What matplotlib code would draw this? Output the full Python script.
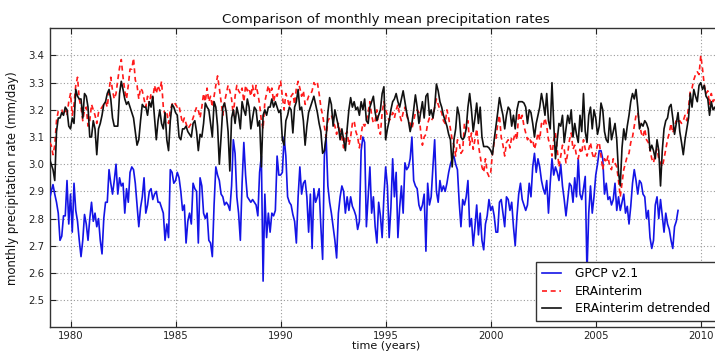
import numpy as np
import matplotlib
matplotlib.use("Agg")
import matplotlib.pyplot as plt

start_year = 1979

gpcp = [
    2.87, 2.90, 2.925, 2.89, 2.86, 2.82, 2.72, 2.735, 2.81, 2.81, 2.94, 2.78,   # 1979
    2.89, 2.75, 2.93, 2.83, 2.79, 2.72, 2.66, 2.72, 2.815, 2.78, 2.72, 2.80,   # 1980
    2.86, 2.79, 2.82, 2.77, 2.80, 2.72, 2.67, 2.80, 2.86, 2.86, 2.98, 2.93,    # 1981
    2.89, 2.94, 3.00, 2.89, 2.95, 2.92, 2.93, 2.82, 2.91, 2.86, 2.97, 2.99,    # 1982
    2.98, 2.93, 2.85, 2.77, 2.84, 2.88, 2.95, 2.82, 2.85, 2.90, 2.91, 2.87,    # 1983
    2.89, 2.90, 2.86, 2.86, 2.84, 2.82, 2.72, 2.78, 2.73, 2.98, 2.97, 2.93,    # 1984
    2.94, 2.97, 2.95, 2.90, 2.83, 2.85, 2.71, 2.79, 2.82, 2.78, 2.93, 2.91,    # 1985
    2.90, 2.71, 2.95, 2.92, 2.82, 2.80, 2.82, 2.72, 2.71, 2.66, 2.85, 2.99,    # 1986
    2.96, 2.94, 2.89, 2.88, 2.85, 2.86, 2.85, 2.83, 2.92, 3.09, 3.04, 2.88,    # 1987
    2.82, 2.72, 2.93, 3.08, 2.96, 2.88, 2.87, 2.86, 2.87, 2.86, 2.85, 2.81,    # 1988
    2.97, 3.03, 2.57, 2.89, 2.73, 2.82, 2.75, 2.82, 2.81, 2.83, 3.03, 2.96,    # 1989
    2.96, 2.97, 3.10, 3.03, 2.88, 2.86, 2.85, 2.815, 2.79, 2.71, 2.88, 2.99,   # 1990
    2.89, 2.93, 2.94, 2.88, 2.75, 2.89, 2.69, 2.91, 2.86, 2.88, 2.91, 2.77,    # 1991
    2.65, 3.03, 3.10, 2.92, 2.86, 2.82, 2.77, 2.72, 2.655, 2.82, 2.88, 2.92,   # 1992
    2.90, 2.82, 2.88, 2.83, 2.88, 2.845, 2.83, 2.81, 2.76, 2.79, 3.05, 3.10,   # 1993
    3.08, 2.77, 2.88, 2.99, 2.82, 2.88, 2.77, 2.71, 2.86, 2.81, 2.73, 2.88,    # 1994
    2.99, 2.92, 2.73, 2.84, 3.02, 2.88, 2.97, 2.73, 2.84, 2.92, 2.82, 3.005,   # 1995
    2.98, 2.99, 3.02, 3.10, 2.94, 2.92, 2.91, 2.85, 2.83, 2.85, 2.89, 2.68,    # 1996
    2.93, 2.85, 2.88, 2.99, 3.09, 2.90, 2.86, 2.94, 2.90, 2.92, 2.90, 2.93,    # 1997
    2.97, 3.00, 3.02, 3.03, 3.00, 2.98, 2.86, 2.77, 2.87, 2.85, 2.88, 2.94,    # 1998
    2.77, 2.80, 2.70, 2.77, 2.85, 2.74, 2.82, 2.72, 2.685, 2.78, 2.81, 2.87,   # 1999
    2.83, 2.845, 2.81, 2.75, 2.75, 2.86, 2.87, 2.82, 2.77, 2.88, 2.87, 2.83,   # 2000
    2.86, 2.77, 2.70, 2.81, 2.89, 2.93, 2.87, 2.85, 2.83, 2.85, 2.93, 2.88,    # 2001
    2.99, 3.04, 2.97, 3.02, 2.99, 2.94, 2.91, 2.89, 2.94, 2.82, 2.93, 3.02,    # 2002
    2.96, 2.99, 2.97, 2.94, 3.00, 2.92, 2.87, 2.81, 2.87, 2.93, 2.92, 2.86,    # 2003
    2.95, 2.88, 3.02, 2.89, 2.87, 2.91, 2.955, 2.60, 2.82, 2.92, 2.82, 2.88,   # 2004
    2.96, 3.00, 3.05, 3.05, 3.02, 2.89, 2.93, 2.87, 2.88, 2.85, 2.87, 2.93,    # 2005
    2.83, 2.88, 2.83, 2.86, 2.89, 2.82, 2.845, 2.78, 2.845, 2.93, 2.98, 2.94,  # 2006
    2.89, 2.94, 2.93, 2.89, 2.88, 2.80, 2.83, 2.73, 2.69, 2.72, 2.85, 2.88,    # 2007
    2.80, 2.87, 2.81, 2.75, 2.82, 2.78, 2.76, 2.72, 2.69, 2.77, 2.79, 2.83,    # 2008
]

era = [
    3.08, 3.07, 3.035, 3.07, 3.16, 3.195, 3.20, 3.20, 3.18, 3.20, 3.18, 3.23,  # 1979
    3.26, 3.18, 3.22, 3.29, 3.32, 3.24, 3.21, 3.16, 3.20, 3.21, 3.14, 3.16,    # 1980
    3.22, 3.20, 3.18, 3.15, 3.19, 3.20, 3.21, 3.22, 3.23, 3.21, 3.27, 3.32,    # 1981
    3.27, 3.24, 3.26, 3.31, 3.355, 3.385, 3.32, 3.27, 3.24, 3.29, 3.35, 3.35,  # 1982
    3.39, 3.31, 3.29, 3.24, 3.28, 3.27, 3.24, 3.21, 3.25, 3.22, 3.26, 3.24,    # 1983
    3.29, 3.26, 3.29, 3.27, 3.305, 3.21, 3.18, 3.19, 3.15, 3.20, 3.22, 3.23,   # 1984
    3.22, 3.21, 3.215, 3.18, 3.15, 3.17, 3.15, 3.13, 3.14, 3.15, 3.17, 3.19,   # 1985
    3.21, 3.20, 3.17, 3.21, 3.26, 3.23, 3.28, 3.23, 3.25, 3.21, 3.25, 3.29,    # 1986
    3.325, 3.28, 3.23, 3.18, 3.23, 3.26, 3.29, 3.27, 3.24, 3.18, 3.25, 3.29,   # 1987
    3.27, 3.26, 3.28, 3.23, 3.29, 3.27, 3.28, 3.25, 3.29, 3.25, 3.29, 3.26,    # 1988
    3.22, 3.16, 3.13, 3.23, 3.26, 3.29, 3.26, 3.28, 3.23, 3.26, 3.25, 3.28,    # 1989
    3.305, 3.25, 3.20, 3.26, 3.24, 3.21, 3.25, 3.26, 3.22, 3.28, 3.305, 3.28,  # 1990
    3.25, 3.27, 3.22, 3.23, 3.25, 3.255, 3.27, 3.30, 3.29, 3.30, 3.26, 3.21,   # 1991
    3.18, 3.14, 3.10, 3.16, 3.17, 3.18, 3.16, 3.14, 3.11, 3.15, 3.12, 3.10,    # 1992
    3.06, 3.11, 3.12, 3.07, 3.10, 3.15, 3.16, 3.12, 3.10, 3.06, 3.11, 3.15,    # 1993
    3.14, 3.16, 3.19, 3.23, 3.18, 3.15, 3.16, 3.20, 3.13, 3.11, 3.19, 3.23,    # 1994
    3.20, 3.18, 3.16, 3.17, 3.19, 3.17, 3.20, 3.22, 3.18, 3.16, 3.19, 3.21,    # 1995
    3.18, 3.16, 3.15, 3.13, 3.16, 3.19, 3.20, 3.19, 3.12, 3.07, 3.10, 3.11,    # 1996
    3.15, 3.17, 3.16, 3.17, 3.21, 3.24, 3.22, 3.20, 3.19, 3.16, 3.15, 3.20,    # 1997
    3.17, 3.13, 3.09, 3.07, 3.03, 3.09, 3.08, 3.04, 3.05, 3.15, 3.13, 3.16,    # 1998
    3.07, 3.115, 3.055, 3.09, 3.13, 3.07, 3.03, 2.99, 2.97, 3.02, 2.97, 2.955, # 1999
    2.97, 3.04, 3.08, 3.09, 3.15, 3.18, 3.10, 3.07, 3.03, 3.08, 3.09, 3.06,    # 2000
    3.10, 3.09, 3.115, 3.09, 3.19, 3.16, 3.18, 3.14, 3.115, 3.09, 3.10, 3.08,  # 2001
    3.09, 3.055, 3.08, 3.115, 3.09, 3.15, 3.14, 3.17, 3.14, 3.09, 3.07, 3.03,  # 2002
    3.09, 3.115, 3.055, 2.99, 3.03, 3.07, 3.055, 3.005, 3.04, 3.09, 3.115, 3.055,  # 2003
    3.07, 3.03, 3.02, 3.055, 3.04, 3.09, 3.055, 3.03, 3.055, 3.08, 3.04, 3.02, # 2004
    3.04, 3.07, 3.08, 3.03, 2.98, 3.02, 3.005, 3.03, 2.99, 2.98, 3.02, 3.005,  # 2005
    2.99, 2.94, 2.88, 2.93, 2.98, 3.005, 3.03, 3.04, 3.08, 3.10, 3.14, 3.18,   # 2006
    3.19, 3.15, 3.115, 3.10, 3.13, 3.09, 3.08, 3.055, 3.02, 3.005, 3.04, 3.055,  # 2007
    3.02, 3.005, 2.99, 3.02, 3.055, 3.09, 3.115, 3.15, 3.115, 3.14, 3.16, 3.15,  # 2008
    3.16, 3.15, 3.16, 3.18, 3.16, 3.21, 3.27, 3.28, 3.31, 3.33, 3.34, 3.33,    # 2009
    3.40, 3.35, 3.29, 3.26, 3.27, 3.22, 3.26, 3.23, 3.24, 3.26, 3.22, 3.24,    # 2010
]

era_detrended = [
    3.02, 3.00, 2.98, 2.94, 3.12, 3.17, 3.17, 3.19, 3.18, 3.21, 3.20, 3.14,    # 1979
    3.13, 3.17, 3.15, 3.275, 3.25, 3.24, 3.24, 3.17, 3.26, 3.25, 3.21, 3.10,   # 1980
    3.10, 3.16, 3.13, 3.035, 3.13, 3.15, 3.18, 3.22, 3.23, 3.26, 3.275, 3.24,  # 1981
    3.17, 3.14, 3.14, 3.14, 3.26, 3.305, 3.275, 3.24, 3.22, 3.23, 3.21, 3.19,  # 1982
    3.17, 3.12, 3.07, 3.09, 3.16, 3.22, 3.21, 3.21, 3.18, 3.23, 3.21, 3.25,    # 1983
    3.17, 3.09, 3.16, 3.20, 3.15, 3.13, 3.19, 3.09, 3.05, 3.16, 3.22, 3.21,    # 1984
    3.19, 3.18, 3.10, 3.09, 3.13, 3.13, 3.14, 3.12, 3.11, 3.10, 3.15, 3.16,    # 1985
    3.12, 3.05, 3.11, 3.10, 3.15, 3.225, 3.21, 3.20, 3.15, 3.10, 3.23, 3.21,   # 1986
    3.14, 3.00, 3.10, 3.21, 3.225, 3.19, 3.12, 2.975, 3.17, 3.20, 3.15, 3.21,  # 1987
    3.18, 3.13, 3.23, 3.20, 3.18, 3.24, 3.21, 3.13, 3.17, 3.21, 3.20, 3.14,    # 1988
    3.16, 2.99, 3.18, 3.20, 3.18, 3.21, 3.21, 3.24, 3.21, 3.23, 3.21, 3.19,    # 1989
    3.20, 3.09, 3.07, 3.16, 3.18, 3.21, 3.20, 3.115, 3.21, 3.23, 3.275, 3.20,  # 1990
    3.21, 3.16, 3.07, 3.14, 3.19, 3.21, 3.23, 3.25, 3.22, 3.19, 3.15, 3.12,    # 1991
    3.04, 3.05, 3.10, 3.19, 3.245, 3.22, 3.14, 3.20, 3.17, 3.14, 3.09, 3.13,   # 1992
    3.09, 3.05, 3.13, 3.20, 3.245, 3.21, 3.23, 3.20, 3.21, 3.18, 3.23, 3.20,   # 1993
    3.24, 3.16, 3.15, 3.21, 3.23, 3.25, 3.19, 3.16, 3.18, 3.20, 3.26, 3.285,   # 1994
    3.09, 3.13, 3.16, 3.20, 3.23, 3.24, 3.26, 3.23, 3.21, 3.24, 3.27, 3.23,    # 1995
    3.19, 3.16, 3.12, 3.15, 3.20, 3.255, 3.21, 3.15, 3.19, 3.23, 3.17, 3.25,   # 1996
    3.26, 3.18, 3.20, 3.17, 3.21, 3.295, 3.27, 3.23, 3.21, 3.18, 3.16, 3.14,   # 1997
    3.11, 3.09, 2.99, 3.09, 3.13, 3.21, 3.18, 3.10, 3.09, 3.10, 3.13, 3.21,    # 1998
    3.26, 3.20, 3.12, 3.17, 3.225, 3.15, 3.21, 3.10, 3.065, 3.065, 3.065, 3.06,  # 1999
    3.05, 3.035, 3.09, 3.14, 3.19, 3.245, 3.21, 3.18, 3.13, 3.18, 3.21, 3.20,  # 2000
    3.14, 3.18, 3.13, 3.20, 3.23, 3.23, 3.23, 3.225, 3.21, 3.15, 3.20, 3.19,   # 2001
    3.15, 3.10, 3.15, 3.18, 3.21, 3.26, 3.225, 3.18, 3.26, 3.16, 3.13, 3.30,   # 2002
    3.15, 3.02, 3.09, 3.15, 3.14, 3.18, 3.08, 3.13, 3.18, 3.15, 3.20, 3.10,    # 2003
    3.15, 3.11, 3.08, 3.18, 3.12, 3.26, 3.12, 3.08, 3.18, 3.21, 3.13, 3.20,    # 2004
    3.17, 3.11, 3.14, 3.225, 3.20, 3.12, 3.09, 3.08, 3.17, 3.09, 3.12, 3.15,   # 2005
    3.09, 2.97, 2.92, 3.06, 3.13, 3.09, 3.14, 3.18, 3.23, 3.26, 3.24, 3.275,   # 2006
    3.21, 3.13, 3.15, 3.14, 3.16, 3.15, 3.13, 3.05, 3.07, 3.05, 3.02, 3.09,    # 2007
    3.05, 2.92, 3.05, 3.13, 3.16, 3.17, 3.21, 3.22, 3.17, 3.11, 3.15, 3.19,    # 2008
    3.12, 3.08, 3.035, 3.09, 3.13, 3.17, 3.26, 3.21, 3.275, 3.25, 3.23, 3.29,  # 2009
    3.30, 3.275, 3.29, 3.25, 3.24, 3.18, 3.23, 3.20, 3.21, 3.19, 3.20, 3.21,   # 2010
]

x_ticks = [1980, 1985, 1990, 1995, 2000, 2005, 2010]
y_ticks = [2.5, 2.6, 2.7, 2.8, 2.9, 3.0, 3.1, 3.2, 3.3, 3.4]

t_gpcp = start_year + np.arange(len(gpcp)) / 12.0
t_era = start_year + np.arange(len(era)) / 12.0
t_det = start_year + np.arange(len(era_detrended)) / 12.0

W, H = 715, 352
fig = plt.figure(figsize=(W / 100, H / 100), dpi=100)
ax_left = 49.5 / W
ax_bottom = 1 - 327.3 / H
ax_width = 672.3 / W
ax_height = (327.3 - 28.3) / H
ax = fig.add_axes([ax_left, ax_bottom, ax_width, ax_height])

ax.plot(t_gpcp, gpcp, color="#1414e6", lw=1.2, label="GPCP v2.1", zorder=3)
ax.plot(t_era, era, color="#ff1a1a", lw=1.2, dashes=(3.0, 2.2), label="ERAinterim", zorder=3)
ax.plot(t_det, era_detrended, color="#111111", lw=1.2, label="ERAinterim detrended", zorder=4)

ax.set_xlim(1979, 2011)
ax.set_ylim(2.4, 3.5)
ax.set_xticks(x_ticks)
ax.set_yticks(y_ticks)
ax.set_yticklabels([f"{v:.1f}" for v in y_ticks])
ax.tick_params(direction="in", length=4, width=0.8, labelsize=7.3, colors="#222222",
               top=True, right=True, pad=4)
ax.tick_params(axis="x", pad=3)
ax.grid(True, color="#9a9a9a", linestyle=(0, (1, 2)), linewidth=0.8)
for sp in ax.spines.values():
    sp.set_color("#333333")
    sp.set_linewidth(1.0)

ax.set_title("Comparison of monthly mean precipitation rates", fontsize=9.6, pad=4, color="#111111")
ax.set_ylabel("monthly precipitation rate (mm/day)", fontsize=8.4, labelpad=6, color="#111111")
ax.set_xlabel("time (years)", fontsize=8.0, labelpad=-0.5, color="#111111")

leg = ax.legend(loc="lower left", bbox_to_anchor=(536 / W, 1 - 321 / H),
                bbox_transform=fig.transFigure, borderaxespad=0, fontsize=8.8,
                fancybox=False, framealpha=1, edgecolor="#333333",
                handlelength=1.6, handletextpad=1.15, borderpad=0.45, labelspacing=0.38)
leg.get_frame().set_linewidth(1.0)
leg.set_zorder(10)

fig.savefig("out.png", dpi=100)
